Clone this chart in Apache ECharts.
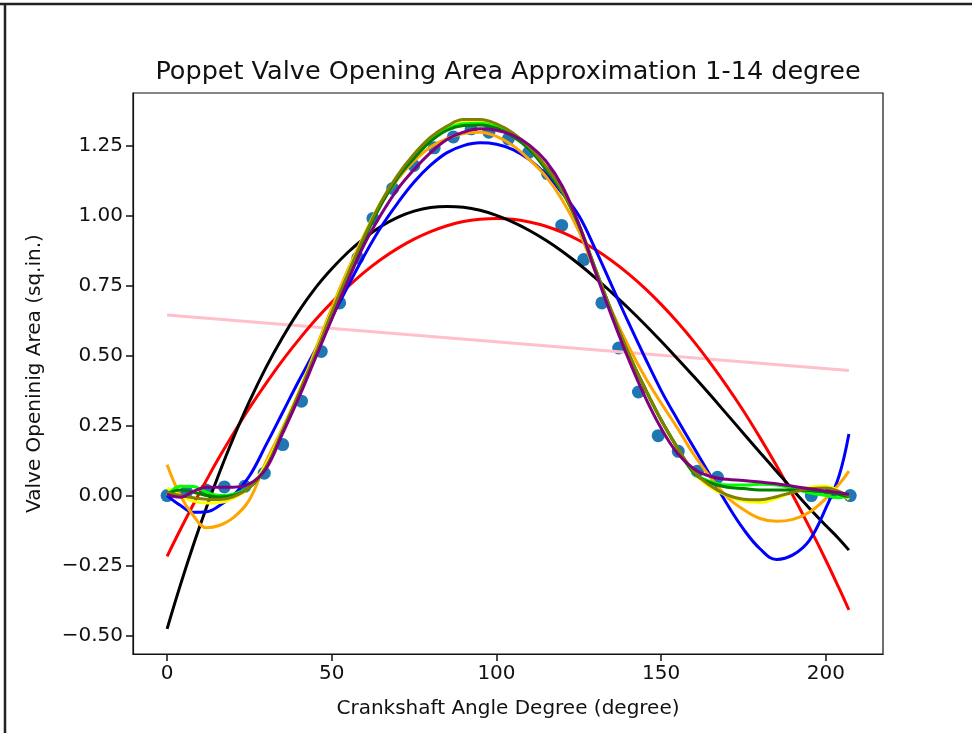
<!DOCTYPE html>
<html>
<head>
<meta charset="utf-8">
<script src="https://cdn.jsdelivr.net/npm/echarts@6/dist/echarts.min.js"></script>
<style>
  html, body { margin: 0; padding: 0; background: #fff; }
  #chart { width: 972px; height: 733px; }
</style>
</head>
<body>
<div id="chart"></div>
<script>
var chart = echarts.init(document.getElementById('chart'));

// measured points
var ptsX = [0, 5.9, 11.8, 17.4, 23.6, 29.5, 35.1, 40.8, 46.8, 52.4, 57.9, 62.5, 68.5, 74.9, 81.1, 86.9, 92.3, 97.7, 103.6, 109.8, 115.5, 119.8, 126.5, 132.0, 137.1, 143.1, 149.1, 155.2, 161.0, 167.1, 195.6, 201.5, 207.4];
var ptsY = [0.0, 0.013, 0.02, 0.031, 0.033, 0.08, 0.182, 0.337, 0.515, 0.688, 0.849, 0.99, 1.097, 1.179, 1.242, 1.281, 1.31, 1.298, 1.274, 1.226, 1.15, 0.965, 0.843, 0.688, 0.527, 0.37, 0.214, 0.158, 0.087, 0.065, 0.0, 0.01, 0.0];

// fitted curves
var pinkX = [0, 207];
var pinkY = [0.645, 0.447];

var fitX = [0, 4, 8, 12, 16, 20, 25, 30, 35, 40, 45, 50, 55, 60, 65, 70, 75, 80, 85, 90, 95, 100, 105, 110, 115, 120, 125, 130, 135, 140, 145, 150, 155, 160, 165, 170, 175, 180, 185, 190, 195, 200, 204, 207];

var redY = [-0.217, -0.122, -0.031, 0.056, 0.14, 0.219, 0.313, 0.40, 0.482, 0.557, 0.627, 0.69, 0.747, 0.799, 0.844, 0.883, 0.916, 0.943, 0.964, 0.979, 0.987, 0.99, 0.987, 0.977, 0.962, 0.94, 0.912, 0.879, 0.839, 0.793, 0.741, 0.683, 0.619, 0.549, 0.472, 0.39, 0.302, 0.207, 0.107, 0.0, -0.113, -0.231, -0.331, -0.408];

var blackY = [-0.476, -0.321, -0.176, -0.041, 0.085, 0.202, 0.336, 0.457, 0.564, 0.659, 0.741, 0.81, 0.87, 0.92, 0.962, 0.994, 1.016, 1.029, 1.033, 1.03, 1.019, 1.001, 0.977, 0.947, 0.912, 0.872, 0.827, 0.778, 0.725, 0.67, 0.612, 0.551, 0.488, 0.424, 0.358, 0.29, 0.222, 0.154, 0.087, 0.02, -0.045, -0.107, -0.155, -0.195];

var blueY = [0.0, -0.035, -0.06, -0.058, -0.035, 0.0, 0.07, 0.18, 0.295, 0.41, 0.52, 0.635, 0.75, 0.86, 0.96, 1.045, 1.12, 1.18, 1.225, 1.25, 1.26, 1.255, 1.236, 1.20, 1.148, 1.08, 1.0, 0.88, 0.75, 0.62, 0.495, 0.375, 0.27, 0.17, 0.07, -0.03, -0.12, -0.19, -0.228, -0.212, -0.16, -0.045, 0.07, 0.22];

var orangeY = [0.11, 0.0, -0.072, -0.115, -0.106, -0.08, -0.015, 0.12, 0.24, 0.37, 0.52, 0.67, 0.81, 0.935, 1.045, 1.13, 1.195, 1.245, 1.275, 1.293, 1.298, 1.283, 1.25, 1.2, 1.14, 1.055, 0.945, 0.80, 0.66, 0.535, 0.425, 0.33, 0.24, 0.145, 0.065, -0.005, -0.05, -0.082, -0.092, -0.085, -0.06, -0.01, 0.04, 0.087];

var yellowY = [0.027, 0.0, -0.02, -0.027, -0.025, -0.01, 0.03, 0.11, 0.235, 0.37, 0.51, 0.66, 0.80, 0.935, 1.05, 1.14, 1.21, 1.27, 1.31, 1.333, 1.335, 1.32, 1.29, 1.24, 1.17, 1.085, 0.965, 0.81, 0.655, 0.51, 0.385, 0.27, 0.165, 0.08, 0.03, 0.0, -0.02, -0.025, -0.01, 0.012, 0.03, 0.033, 0.015, -0.014];

var limeY = [0.0, 0.033, 0.032, 0.012, 0.0, 0.005, 0.03, 0.10, 0.23, 0.36, 0.50, 0.65, 0.79, 0.925, 1.045, 1.14, 1.21, 1.27, 1.31, 1.328, 1.33, 1.318, 1.288, 1.24, 1.168, 1.085, 0.965, 0.81, 0.655, 0.51, 0.385, 0.27, 0.17, 0.08, 0.05, 0.038, 0.038, 0.04, 0.038, 0.025, 0.01, 0.0, -0.008, 0.004];

var greenY = [0.005, 0.02, 0.012, 0.0, -0.005, 0.0, 0.028, 0.10, 0.225, 0.36, 0.50, 0.645, 0.785, 0.92, 1.04, 1.135, 1.205, 1.265, 1.305, 1.322, 1.324, 1.312, 1.283, 1.236, 1.165, 1.085, 0.965, 0.81, 0.655, 0.51, 0.385, 0.27, 0.17, 0.08, 0.045, 0.03, 0.025, 0.02, 0.02, 0.02, 0.018, 0.012, 0.004, -0.005];

var oliveY = [0.01, 0.0, -0.008, -0.013, -0.014, -0.005, 0.03, 0.10, 0.23, 0.365, 0.505, 0.655, 0.795, 0.93, 1.05, 1.145, 1.22, 1.28, 1.32, 1.343, 1.343, 1.328, 1.295, 1.245, 1.175, 1.09, 0.97, 0.81, 0.655, 0.51, 0.385, 0.27, 0.17, 0.085, 0.035, 0.002, -0.013, -0.015, -0.004, 0.012, 0.024, 0.027, 0.015, -0.002];

var purpleY = [0.004, -0.006, 0.015, 0.03, 0.03, 0.03, 0.042, 0.095, 0.22, 0.35, 0.49, 0.63, 0.77, 0.90, 1.005, 1.095, 1.165, 1.225, 1.272, 1.298, 1.31, 1.305, 1.287, 1.252, 1.195, 1.105, 0.97, 0.80, 0.64, 0.49, 0.355, 0.24, 0.15, 0.095, 0.068, 0.058, 0.054, 0.048, 0.042, 0.033, 0.024, 0.016, 0.01, 0.004];

var xTicks = [0, 50, 100, 150, 200];
var yTicks = [-0.5, -0.25, 0, 0.25, 0.5, 0.75, 1.0, 1.25];

function pairs(xs, ys) {
  return xs.map(function (x, i) { return [x, ys[i]]; });
}

var fits = [
  { name: 'deg1', color: 'pink', data: pairs(pinkX, pinkY) },
  { name: 'deg2', color: 'red', data: pairs(fitX, redY) },
  { name: 'deg3', color: 'black', data: pairs(fitX, blackY) },
  { name: 'deg4', color: 'blue', data: pairs(fitX, blueY) },
  { name: 'deg5', color: 'orange', data: pairs(fitX, orangeY) },
  { name: 'deg6', color: 'yellow', data: pairs(fitX, yellowY) },
  { name: 'deg7', color: 'lime', data: pairs(fitX, limeY) },
  { name: 'deg8', color: 'green', data: pairs(fitX, greenY) },
  { name: 'deg9', color: 'olive', data: pairs(fitX, oliveY) },
  { name: 'deg10', color: 'purple', data: pairs(fitX, purpleY) }
];

var font = 'DejaVu Sans';
var series = [{
  name: 'data',
  type: 'scatter',
  symbolSize: 13,
  itemStyle: { color: '#1f77b4', opacity: 1 },
  data: pairs(ptsX, ptsY),
  z: 1
}];

fits.forEach(function (f) {
  series.push({
    name: f.name,
    type: 'line',
    data: f.data,
    smooth: 0.4,
    smoothConstraint: false,
    showSymbol: false,
    lineStyle: { color: f.color, width: 3 },
    z: 2
  });
});

function minusFmt(v, digits) {
  return v.toFixed(digits).replace('-', '\u2212');
}

var option = {
  animation: false,
  backgroundColor: '#fff',
  grid: {
    left: 133, right: 89, top: 93, bottom: 79,
    show: true, borderColor: '#111', borderWidth: 1.2
  },
  xAxis: {
    type: 'value',
    min: -10.35,
    max: 217.35,
    name: 'Crankshaft Angle Degree (degree)',
    nameLocation: 'middle',
    nameGap: 45,
    nameTextStyle: { fontFamily: font, fontSize: 20, color: '#111' },
    axisLine: { show: true, onZero: false, lineStyle: { color: '#111', width: 1.2 } },
    axisTick: { show: true, length: 7, lineStyle: { color: '#111', width: 1.5 }, customValues: xTicks },
    axisLabel: {
      fontFamily: font, fontSize: 20, color: '#111', margin: 10,
      customValues: xTicks,
      formatter: function (v) { return minusFmt(v, 0); }
    },
    splitLine: { show: false }
  },
  yAxis: {
    type: 'value',
    min: -0.566,
    max: 1.438,
    name: 'Valve Openinig Area (sq.in.)',
    nameLocation: 'middle',
    nameGap: 88,
    nameTextStyle: { fontFamily: font, fontSize: 20, color: '#111' },
    axisLine: { show: true, onZero: false, lineStyle: { color: '#111', width: 1.2 } },
    axisTick: { show: true, length: 7, lineStyle: { color: '#111', width: 1.5 }, customValues: yTicks },
    axisLabel: {
      fontFamily: font, fontSize: 20, color: '#111', margin: 10,
      customValues: yTicks,
      formatter: function (v) { return minusFmt(v, 2); }
    },
    splitLine: { show: false }
  },
  graphic: [
    {
      type: 'text', x: 508, y: 72,
      style: {
        text: 'Poppet Valve Opening Area Approximation 1-14 degree',
        font: '25.5px "DejaVu Sans"', fill: '#111',
        textAlign: 'center', textVerticalAlign: 'middle'
      }
    },
    { type: 'line', shape: { x1: 0, y1: 4, x2: 972, y2: 4 }, style: { stroke: '#222', lineWidth: 2.5 } },
    { type: 'line', shape: { x1: 5, y1: 4, x2: 5, y2: 733 }, style: { stroke: '#222', lineWidth: 2.5 } }
  ],
  series: series
};

chart.setOption(option);
</script>
</body>
</html>
